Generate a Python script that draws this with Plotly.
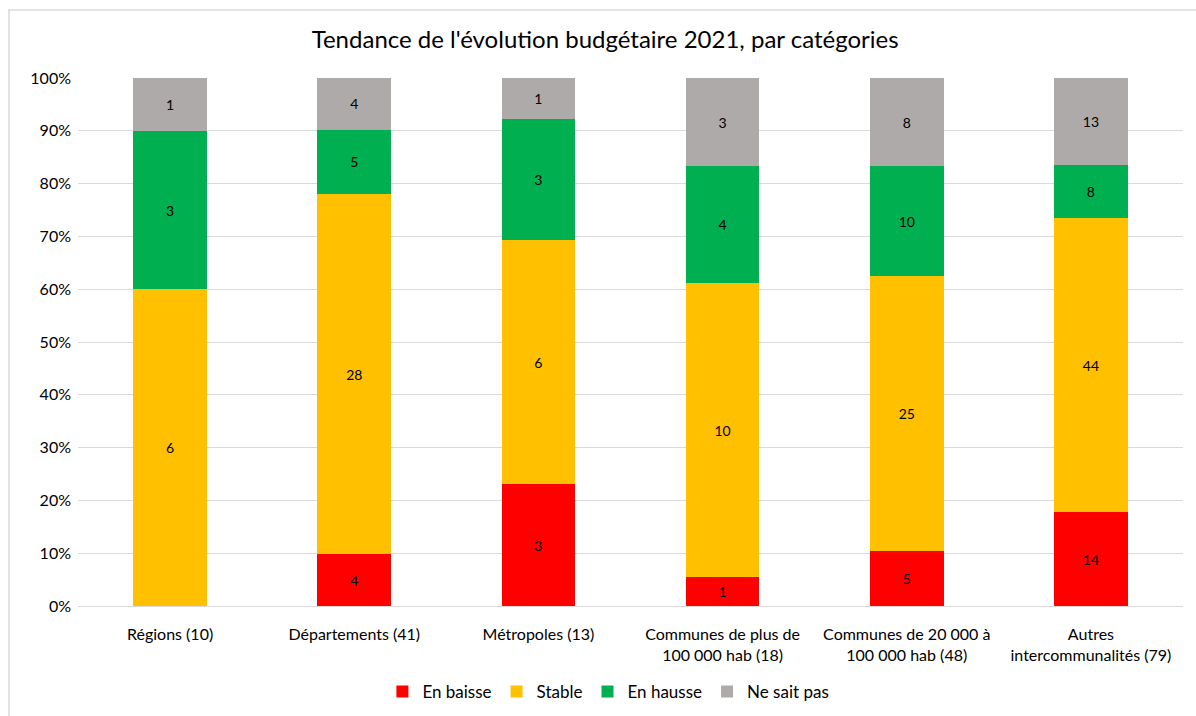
import plotly.graph_objects as go

categories = [
    "Régions (10)",
    "Départements (41)",
    "Métropoles (13)",
    "Communes de plus de<br>100 000 hab (18)",
    "Communes de 20 000 à<br>100 000 hab (48)",
    "Autres<br>intercommunalités (79)",
]
series_names = ["En baisse", "Stable", "En hausse", "Ne sait pas"]
en_baisse = [0, 4, 3, 1, 5, 14]
stable = [6, 28, 6, 10, 25, 44]
en_hausse = [3, 5, 3, 4, 10, 8]
ne_sait_pas = [1, 4, 1, 3, 8, 13]
colors = ["#FF0000", "#FFC000", "#00B050", "#AEAAAA"]
y_ticks = list(range(0, 101, 10))
y_tick_labels = [f"{v}%" for v in y_ticks]

FONT = "Lato"

fig = go.Figure()
for name, vals, col in zip(series_names, [en_baisse, stable, en_hausse, ne_sait_pas], colors):
    fig.add_trace(go.Bar(
        name=name,
        x=categories,
        y=vals,
        marker=dict(color=col, line=dict(width=0)),
        text=[str(v) if v else "" for v in vals],
        textposition="inside",
        insidetextanchor="middle",
        textangle=0,
        constraintext="none",
        textfont=dict(family=FONT, size=14, color="#000000"),
    ))

fig.update_layout(
    barmode="stack",
    barnorm="percent",
    bargap=0.6,
    width=1196,
    height=716,
    margin=dict(l=78, r=13, t=78, b=110, autoexpand=False),
    paper_bgcolor="white",
    plot_bgcolor="white",
    font=dict(family=FONT, color="#000000"),
    title=dict(
        text="Tendance de l'évolution budgétaire 2021, par catégories",
        x=0.506, xanchor="center",
        y=1 - 40 / 716, yanchor="middle",
        font=dict(family=FONT, size=24, color="#000000"),
    ),
    legend=dict(
        orientation="h",
        x=0.48, xanchor="center",
        y=-0.163, yanchor="middle",
        font=dict(family=FONT, size=17, color="#000000"),
        itemwidth=30,
        traceorder="normal",
    ),
    showlegend=True,
)

fig.update_yaxes(
    range=[0, 100],
    tickmode="array",
    tickvals=y_ticks,
    ticktext=y_tick_labels,
    showgrid=True,
    gridcolor="#D9D9D9",
    gridwidth=1,
    zeroline=False,
    showline=False,
    ticks="",
    automargin=False,
    ticklabelstandoff=6,
    tickfont=dict(family=FONT, size=16, color="#000000"),
)
fig.update_xaxes(
    showline=True,
    linecolor="#D9D9D9",
    linewidth=1,
    ticks="",
    automargin=False,
    ticklabelstandoff=14,
    tickfont=dict(family=FONT, size=16, color="#000000"),
)

# chart frame
fig.add_shape(
    type="rect", xref="paper", yref="paper",
    x0=(9 - 78) / 1105, x1=1.2,
    y0=-0.5, y1=(606 - 10) / 528,
    line=dict(color="#D9D9D9", width=1.5),
    fillcolor="rgba(0,0,0,0)",
    layer="below",
)

fig.write_html("out.html")
